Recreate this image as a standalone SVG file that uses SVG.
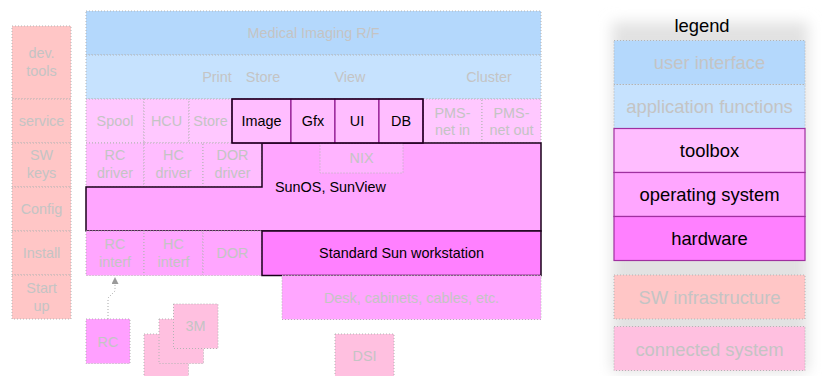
<svg xmlns="http://www.w3.org/2000/svg" width="822" height="376" viewBox="0 0 822 376">
<defs>
<style>
.t{font-family:"Liberation Sans",Arial,sans-serif;font-size:14.4px;text-anchor:middle;dominant-baseline:central}
.L{font-size:18.4px}
.g{fill:#c4c4c4}
.k{fill:#000}
.d{stroke:#b4b4b4;stroke-width:1;stroke-dasharray:1 2}
.ui{fill:#b4d8fc}
.app{fill:#c6e2fe}
.tb{fill:#ffbdff}
.tbl{fill:#ffc8ff}
.os{fill:#ffa6ff}
.hw{fill:#ff80ff}
.sw{fill:#ffc6c6}
.cs{fill:#ffc0e0}
.em{stroke:#800080;stroke-width:1}
.ol{fill:none;stroke:#1a001a;stroke-width:1.5}
</style>
<filter id="blur" x="-20%" y="-20%" width="140%" height="140%"><feGaussianBlur stdDeviation="7"/></filter>
<marker id="arr" viewBox="0 0 10 10" refX="10" refY="5" markerWidth="7" markerHeight="7" orient="auto" markerUnits="userSpaceOnUse"><path d="M0,0 L10,5 L0,10 z" fill="#9a9a9a"/></marker>
</defs>
<rect width="822" height="376" fill="#fff"/>

<!-- left column: SW infrastructure -->
<g id="devtools"><rect x="12" y="26" width="59" height="73" class="sw d"/><text class="t g" x="41.5"><tspan x="41.5" y="53">dev.</tspan><tspan x="41.5" y="71">tools</tspan></text></g>
<g id="service"><rect x="12" y="99" width="59" height="44" class="sw d"/><text class="t g" x="41.5" y="121">service</text></g>
<g id="swkeys"><rect x="12" y="143" width="59" height="44" class="sw d"/><text class="t g"><tspan x="41.5" y="155">SW</tspan><tspan x="41.5" y="173">keys</tspan></text></g>
<g id="config"><rect x="12" y="187" width="59" height="44" class="sw d"/><text class="t g" x="41.5" y="209">Config</text></g>
<g id="install"><rect x="12" y="231" width="59" height="44" class="sw d"/><text class="t g" x="41.5" y="253">Install</text></g>
<g id="startup"><rect x="12" y="275" width="59" height="44" class="sw d"/><text class="t g"><tspan x="41.5" y="288">Start</tspan><tspan x="41.5" y="306">up</tspan></text></g>

<!-- main stack -->
<g id="medical"><rect x="86" y="11" width="455" height="44" class="ui d"/><text class="t g" x="313.5" y="33">Medical Imaging R/F</text></g>
<g id="appfunc"><rect x="86" y="55" width="455" height="44" class="app d"/>
<text class="t g" x="217" y="77">Print</text><text class="t g" x="263" y="77">Store</text><text class="t g" x="350" y="77">View</text><text class="t g" x="489" y="77">Cluster</text></g>

<g id="spool"><rect x="86" y="99" width="58" height="44" class="tbl d"/><text class="t g" x="115" y="121">Spool</text></g>
<g id="hcu"><rect x="144" y="99" width="45" height="44" class="tbl d"/><text class="t g" x="166.5" y="121">HCU</text></g>
<g id="store"><rect x="189" y="99" width="43" height="44" class="tbl d"/><text class="t g" x="210.5" y="121">Store</text></g>
<g id="pmsin"><rect x="423" y="99" width="59" height="44" class="tbl d"/><text class="t g"><tspan x="452.5" y="113">PMS-</tspan><tspan x="452.5" y="130">net in</tspan></text></g>
<g id="pmsout"><rect x="482" y="99" width="59" height="44" class="tbl d"/><text class="t g"><tspan x="511.5" y="113">PMS-</tspan><tspan x="511.5" y="130">net out</tspan></text></g>

<g id="rcdriver"><rect x="86" y="143" width="58" height="44" class="tb d"/><text class="t g"><tspan x="115" y="155">RC</tspan><tspan x="115" y="173">driver</tspan></text></g>
<g id="hcdriver"><rect x="144" y="143" width="59" height="44" class="tb d"/><text class="t g"><tspan x="173.5" y="155">HC</tspan><tspan x="173.5" y="173">driver</tspan></text></g>
<g id="dordriver"><rect x="203" y="143" width="59" height="44" class="tb d"/><text class="t g"><tspan x="232.5" y="155">DOR</tspan><tspan x="232.5" y="173">driver</tspan></text></g>

<g id="sunos"><path d="M262,143 H541 V231 H86 V187 H262 Z" class="os" stroke="#1a001a" stroke-width="1.5"/><text class="t k" x="275" y="187" style="text-anchor:start">SunOS, SunView</text></g>
<g id="nix"><rect x="320" y="143.5" width="83" height="29.5" fill="#ffb4ff" class="d"/><text class="t g" x="361.5" y="158">NIX</text></g>

<g id="toolbox">
<rect x="232" y="99" width="59" height="44" class="tb em"/><text class="t k" x="261.5" y="121">Image</text>
<rect x="291" y="99" width="44" height="44" class="tb em"/><text class="t k" x="313" y="121">Gfx</text>
<rect x="335" y="99" width="44" height="44" class="tb em"/><text class="t k" x="357" y="121">UI</text>
<rect x="379" y="99" width="44" height="44" class="tb em"/><text class="t k" x="401" y="121">DB</text>
<rect x="232" y="99" width="191" height="44" class="ol"/>
</g>

<g id="rcinterf"><rect x="86" y="231" width="58" height="44.5" class="os d"/><text class="t g"><tspan x="115" y="244">RC</tspan><tspan x="115" y="262">interf</tspan></text></g>
<g id="hcinterf"><rect x="144" y="231" width="59" height="44.5" class="os d"/><text class="t g"><tspan x="173.5" y="244">HC</tspan><tspan x="173.5" y="262">interf</tspan></text></g>
<g id="dor"><rect x="203" y="231" width="59" height="44.5" class="os d"/><text class="t g" x="232.5" y="253">DOR</text></g>
<g id="sunws"><rect x="262" y="231" width="279" height="44.5" class="hw" stroke="#1a001a" stroke-width="1.5"/><text class="t k" x="401.5" y="253">Standard Sun workstation</text></g>
<g id="desk"><rect x="282" y="275.5" width="259" height="44" class="os d"/><text class="t g" x="411.5" y="297.5">Desk, cabinets, cables, etc.</text></g>

<!-- connected systems -->
<g id="rc"><rect x="86" y="319" width="44" height="44.5" fill="#ffa0ff" class="d"/><text class="t g" x="108" y="341.5">RC</text></g>
<g id="m3">
<rect x="144" y="334" width="44.5" height="45" class="cs d"/>
<rect x="159" y="319" width="44.5" height="44.5" class="cs d"/>
<rect x="173.5" y="304" width="44.5" height="44.5" class="cs d"/>
<text class="t g" x="195.5" y="326">3M</text>
</g>
<g id="dsi"><rect x="335" y="334" width="59" height="45" class="cs d"/><text class="t g" x="364.5" y="356">DSI</text></g>

<g id="connectors">
<path d="M108,319 V298 L115,291 V277" fill="none" stroke="#a8a8a8" stroke-width="1" stroke-dasharray="1 2" marker-end="url(#arr)"/>
</g>

<!-- legend -->
<g id="legend">
<rect x="612" y="22" width="196" height="350" fill="#e2e2e2" filter="url(#blur)"/>
<text class="t L k" x="702" y="25">legend</text>
<rect x="614" y="40.5" width="191" height="44" class="ui d"/><text class="t L g" x="709.5" y="62">user interface</text>
<rect x="614" y="84.5" width="191" height="44" class="app d"/><text class="t L g" x="709.5" y="106">application functions</text>
<rect x="614" y="128.5" width="191" height="44" class="tb" stroke="#a030a0" stroke-width="1.2"/><text class="t L k" x="709.5" y="150.5">toolbox</text>
<rect x="614" y="172.5" width="191" height="44" class="os" stroke="#a030a0" stroke-width="1.2"/><text class="t L k" x="709.5" y="194">operating system</text>
<rect x="614" y="216.5" width="191" height="44" class="hw" stroke="#a030a0" stroke-width="1.2"/><text class="t L k" x="709.5" y="238">hardware</text>
<rect x="614" y="275" width="191" height="44" class="sw d"/><text class="t L g" x="709.5" y="297">SW infrastructure</text>
<rect x="614" y="326.5" width="191" height="44" class="cs d"/><text class="t L g" x="709.5" y="349">connected system</text>
</g>
</svg>
